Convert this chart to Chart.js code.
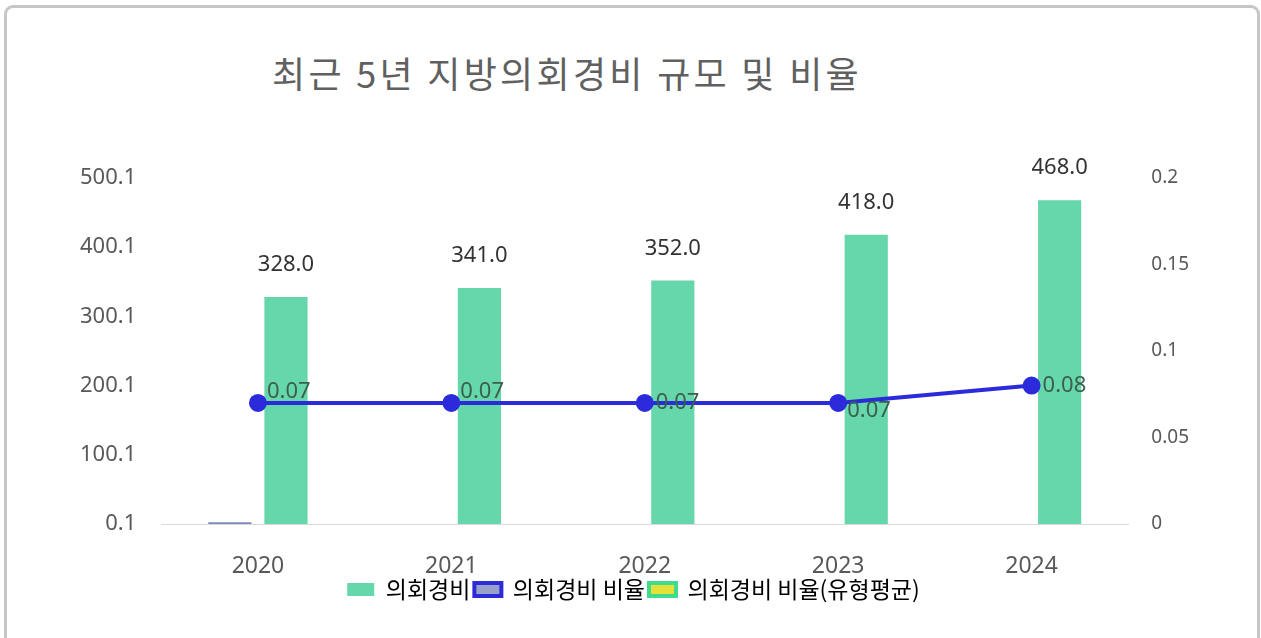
<!DOCTYPE html>
<html>
<head>
<meta charset="utf-8">
<script src="https://cdn.jsdelivr.net/npm/chart.js@4.4.1/dist/chart.umd.min.js"></script>
<style>
  html, body { margin: 0; padding: 0; background: #fff; overflow: hidden; }
  #frame {
    position: absolute; left: 4px; top: 5px; width: 1256px; height: 700px;
    border: 3px solid #c6c6c6; border-radius: 9px; box-sizing: border-box;
  }
  #title {
    position: absolute; left: 272px; top: 46px;
    font-family: "Noto Sans CJK KR", "Noto Sans", sans-serif;
    font-size: 36px; color: #606060; white-space: nowrap; letter-spacing: 3.3px;
  }
  #wrap { position: absolute; left: 0; top: 0; width: 1261px; height: 638px; }
</style>
</head>
<body>
<div id="frame"></div>
<div id="title">최근 5년 지방의회경비 규모 및 비율</div>
<div id="wrap"><canvas id="myChart"></canvas></div>
<script>
const years = ['2020', '2021', '2022', '2023', '2024'];
const councilCost = [328, 341, 352, 418, 468];
const costRatio = [0.07, 0.07, 0.07, 0.07, 0.08];
const typeAvgRatio = [2.5, null, null, null, null];
const ratioLabelPos = ['above', 'above', 'right', 'below', 'right'];

const FONT = '"Noto Sans", "Noto Sans CJK KR", sans-serif';
const KFONT = '"Noto Sans CJK KR", "Noto Sans", sans-serif';

// draws value labels over bars and next to line points
const valueLabels = {
  id: 'valueLabels',
  afterDatasetsDraw(chart) {
    const ctx = chart.ctx;
    ctx.save();
    ctx.font = '22px ' + FONT;
    const barMeta = chart.getDatasetMeta(0);
    ctx.fillStyle = '#333333';
    ctx.textAlign = 'center';
    ctx.textBaseline = 'middle';
    barMeta.data.forEach((el, i) => {
      ctx.fillText(councilCost[i].toFixed(1), el.x, el.y - 32);
    });
    const lineMeta = chart.getDatasetMeta(1);
    ctx.fillStyle = '#3a5f4c';
    ctx.textAlign = 'left';
    lineMeta.data.forEach((el, i) => {
      let dx = 9, dy = 0;
      if (ratioLabelPos[i] === 'above') dy = -11;
      if (ratioLabelPos[i] === 'below') dy = 8;
      if (ratioLabelPos[i] === 'right') dx = 11;
      ctx.fillText(costRatio[i].toFixed(2), el.x + dx, el.y + dy);
    });
    ctx.restore();
  }
};

const legendItems = [
  { text: '의회경비', fillStyle: '#66d6ab', strokeStyle: '#66d6ab', lineWidth: 0, datasetIndex: 0 },
  { text: '의회경비 비율', fillStyle: '#9aa0cc', strokeStyle: '#2b2bd8', lineWidth: 4, datasetIndex: 1 },
  { text: '의회경비 비율(유형평균)', fillStyle: '#e3e23a', strokeStyle: '#3fdc8e', lineWidth: 4, datasetIndex: 2 },
];

new Chart(document.getElementById('myChart').getContext('2d'), {
  type: 'bar',
  data: {
    labels: years,
    datasets: [
      {
        label: '의회경비',
        data: councilCost,
        backgroundColor: '#66d6ab',
        yAxisID: 'y',
        order: 2,
        categoryPercentage: 0.58,
        barPercentage: 0.77,
      },
      {
        type: 'line',
        label: '의회경비 비율',
        data: costRatio,
        borderColor: '#2b2bdc',
        backgroundColor: '#2b2bdc',
        borderWidth: 4,
        pointRadius: 7,
        pointBackgroundColor: '#2b2bdc',
        yAxisID: 'y1',
        order: 0,
      },
      {
        label: '의회경비 비율(유형평균)',
        data: typeAvgRatio,
        backgroundColor: '#8088bd',
        yAxisID: 'y',
        order: 1,
        categoryPercentage: 0.58,
        barPercentage: 0.77,
      },
    ],
  },
  options: {
    responsive: true,
    maintainAspectRatio: false,
    animation: false,
    layout: { padding: { top: 178, left: 55, right: 49, bottom: 27 } },
    plugins: {
      title: { display: false },
      tooltip: { enabled: false },
      legend: {
        position: 'bottom',
        labels: {
          boxWidth: 27,
          boxHeight: 13,
          padding: 4,
          color: '#595959',
          font: { size: 23, family: KFONT },
          generateLabels: () => legendItems.map(it => Object.assign({ hidden: false }, it)),
        },
      },
    },
    scales: {
      x: {
        grid: { display: false, drawTicks: false },
        border: { display: true, color: '#d9d9d9' },
        ticks: { color: '#595959', padding: 29, font: { size: 23, family: FONT } },
        afterFit: scale => { scale.height = 50; },
      },
      y: {
        position: 'left',
        min: 0.1,
        max: 500.1,
        grid: { display: false, drawTicks: false },
        border: { display: false },
        ticks: {
          stepSize: 100,
          padding: 25,
          color: '#595959',
          font: { size: 22, family: FONT },
          callback: v => v.toFixed(1),
        },
      },
      y1: {
        position: 'right',
        min: 0,
        max: 0.2,
        grid: { display: false, drawTicks: false },
        border: { display: false },
        ticks: {
          stepSize: 0.05,
          padding: 23,
          color: '#595959',
          font: { size: 19, family: FONT },
          callback: v => String(+v.toFixed(2)),
        },
      },
    },
  },
  plugins: [valueLabels],
});
</script>
</body>
</html>
